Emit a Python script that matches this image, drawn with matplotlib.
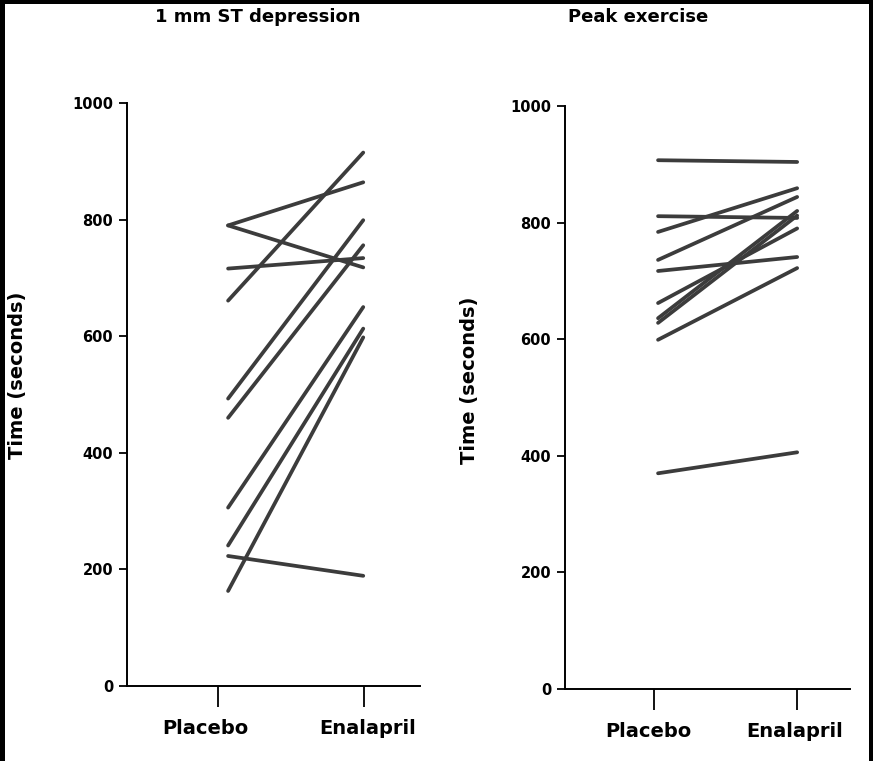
import matplotlib.pyplot as plt
from matplotlib.patches import Rectangle

# 1 mm ST depression (seconds)
st_placebo = [790, 790, 716, 661, 493, 460, 306, 241, 223, 163]
st_enalapril = [864, 718, 734, 915, 799, 756, 650, 613, 189, 598]

# Peak exercise (seconds)
peak_placebo = [907, 811, 784, 736, 717, 662, 636, 628, 599, 370]
peak_enalapril = [904, 808, 859, 844, 741, 790, 820, 812, 722, 406]

groups = ["Placebo", "Enalapril"]
yticks = [0, 200, 400, 600, 800, 1000]

plt.rcParams["font.family"] = "DejaVu Sans"
plt.rcParams["font.weight"] = "bold"

fig = plt.figure(figsize=(8.73, 7.61), dpi=100)
fig.patch.set_facecolor("black")
fig.add_artist(Rectangle((5 / 873, 0), 864 / 873, 757 / 761,
                         transform=fig.transFigure, facecolor="white",
                         edgecolor="none", zorder=0))

line_color = "#3c3c3c"


def panel(rect, before, after, title, title_x, xlim, tick_pos, label_pos, ylab_xy):
    ax = fig.add_axes(rect)
    ax.set_facecolor("none")
    for a, b in zip(before, after):
        ax.plot([0, 1], [a, b], color=line_color, lw=2.7, solid_capstyle="round")
    ax.set_xlim(*xlim)
    ax.set_ylim(0, 1000)
    # tick marks on major ticks, the group names on minor ticks (slightly offset)
    ax.set_xticks(tick_pos)
    ax.set_xticklabels([])
    ax.set_xticks(label_pos, minor=True)
    ax.set_xticklabels(groups, minor=True, fontsize=14, fontweight="bold")
    ax.tick_params(axis="x", which="major", length=15, width=1.3)
    ax.tick_params(axis="x", which="minor", length=0, pad=24)
    ax.set_yticks(yticks)
    ax.set_yticklabels([str(t) for t in yticks], fontsize=10.5, fontweight="bold")
    ax.tick_params(axis="y", length=6, width=1.3, pad=4)
    ax.set_ylabel("Time (seconds)", fontsize=14, fontweight="bold")
    ax.yaxis.set_label_coords(*ylab_xy)
    ax.spines["top"].set_visible(False)
    ax.spines["right"].set_visible(False)
    ax.spines["left"].set_linewidth(1.4)
    ax.spines["bottom"].set_linewidth(1.4)
    fig.text(title_x / 873, 1 - 17 / 761, title, ha="center", va="center",
             fontsize=13, fontweight="bold")
    return ax


panel([127 / 873, 1 - 686 / 761, 293 / 873, 583 / 761],
      st_placebo, st_enalapril, "1 mm ST depression", 258,
      (-0.748, 1.42), [-0.074, 1.007], [-0.17, 1.03], (-0.34, 0.533))
panel([565 / 873, 1 - 689 / 761, 285 / 873, 583 / 761],
      peak_placebo, peak_enalapril, "Peak exercise", 638,
      (-0.669, 1.38), [-0.03, 1.0], [-0.07, 0.98], (-0.30, 0.53))

fig.savefig("out.png", dpi=100, facecolor=fig.get_facecolor())
